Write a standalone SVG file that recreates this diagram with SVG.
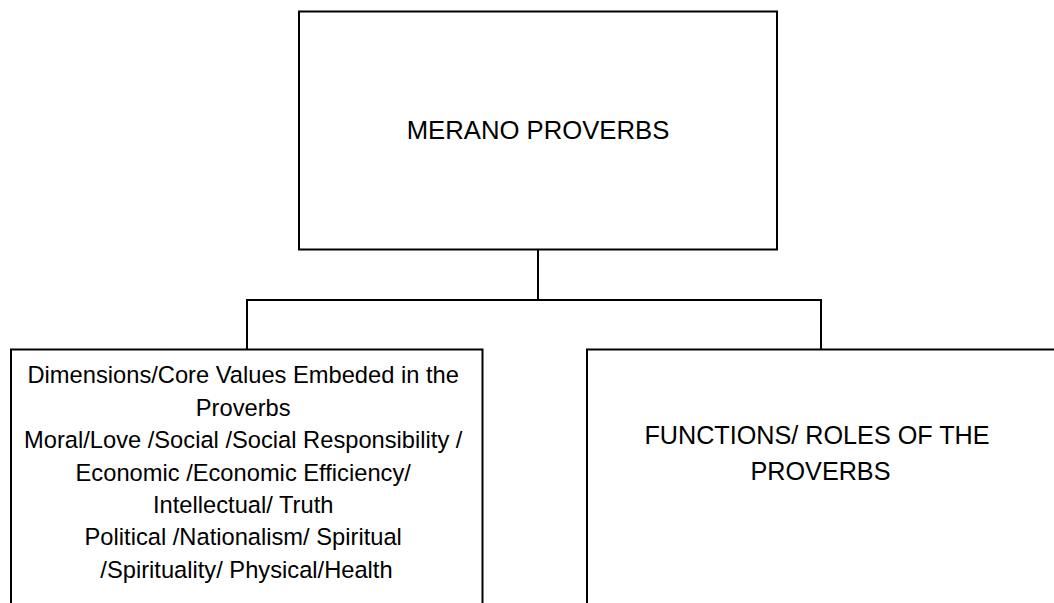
<svg xmlns="http://www.w3.org/2000/svg" width="1054" height="603" viewBox="0 0 1054 603">
<style>
.box{fill:#fff;stroke:#000;stroke-width:2}
.conn{fill:none;stroke:#000;stroke-width:2}
.t{font-family:"Liberation Sans",Arial,sans-serif;fill:#000;text-anchor:middle}
</style>
<rect width="1054" height="603" fill="#fff"/>
<g id="connectors">
<path class="conn" d="M538 249.5V300M247 349.5V300H821V349.5"/>
</g>
<g id="node-merano">
<rect class="box" x="299" y="11.5" width="478" height="238"/>
<text class="t" x="538" y="139.3" font-size="25.7">MERANO PROVERBS</text>
</g>
<g id="node-dimensions">
<rect class="box" x="11" y="349.5" width="471.5" height="270"/>
<text class="t" x="246.5" font-size="23.7">
<tspan x="246.5" y="383.3">Dimensions/Core Values Embeded in the</tspan>
<tspan x="246.5" y="415.7">Proverbs</tspan>
<tspan x="246.5" y="448.1">Moral/Love /Social /Social Responsibility /</tspan>
<tspan x="246.5" y="480.5">Economic /Economic Efficiency/</tspan>
<tspan x="246.5" y="512.9">Intellectual/ Truth</tspan>
<tspan x="246.5" y="545.3">Political /Nationalism/ Spiritual</tspan>
<tspan x="246.5" y="577.7">/Spirituality/ Physical/Health</tspan>
</text>
</g>
<g id="node-functions">
<rect class="box" x="587" y="349.5" width="480" height="270"/>
<text class="t" font-size="25.2">
<tspan x="820.5" y="444.3">FUNCTIONS/ ROLES OF THE</tspan>
<tspan x="820.5" y="480">PROVERBS</tspan>
</text>
</g>
</svg>
